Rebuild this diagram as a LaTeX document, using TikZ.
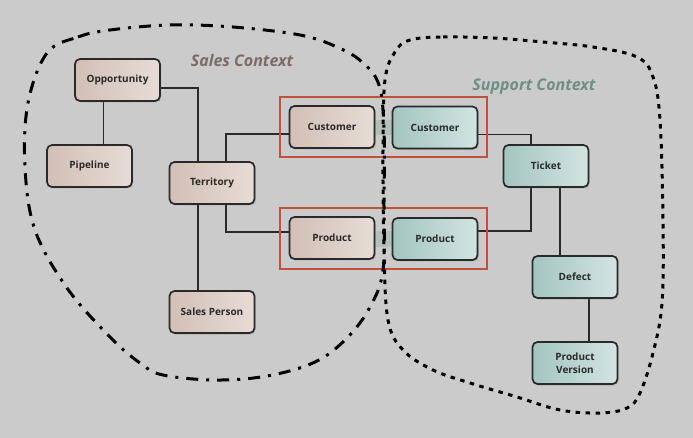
\documentclass[tikz,border=0pt]{standalone}
\usepackage{fontspec}
\setmainfont{Open Sans}
\usetikzlibrary{shadows,fit,calc}
\definecolor{bgc}{HTML}{CBCBCB}
\definecolor{salesL}{HTML}{D2BFB5}
\definecolor{salesR}{HTML}{E6DCD6}
\definecolor{supL}{HTML}{A3C5C0}
\definecolor{supR}{HTML}{D2E4E1}
\definecolor{edgec}{HTML}{2A2A2A}
\definecolor{redc}{HTML}{C0523B}
\definecolor{bandc}{HTML}{B4C0BA}
\definecolor{salestxt}{HTML}{7B6B67}
\definecolor{suptxt}{HTML}{6F8E89}
\pgfdeclarelayer{bglayer}
\pgfdeclarelayer{midlayer}
\pgfsetlayers{bglayer,midlayer,main}
\tikzset{
  entity/.style={draw=edgec, line width=1.7pt, rounded corners=5pt,
    minimum width=85pt, minimum height=42pt, align=center,
    font=\fontsize{10}{12.5}\selectfont\bfseries, text=edgec,
    drop shadow={shadow xshift=1.2pt, shadow yshift=-1.5pt, opacity=0.35}},
  salesent/.style={entity, left color=salesL, right color=salesR},
  supent/.style={entity, left color=supL, right color=supR},
  link/.style={draw=edgec, line width=1.4pt},
  redbox/.style={draw=redc, line width=2.2pt, inner xsep=9pt, inner ysep=8pt},
  salesb/.style={line width=3pt, dash pattern=on 12pt off 8pt on 3pt off 8pt},
  supb/.style={line width=3pt, dash pattern=on 4.5pt off 5.5pt},
  ctxlabel/.style={font=\fontsize{16}{19}\selectfont\bfseries\itshape}
}
\begin{document}
\begin{tikzpicture}[x=1pt,y=-1pt]
\begin{pgfonlayer}{bglayer}
\fill[bgc] (0,0) rectangle (693,438);
\end{pgfonlayer}
\useasboundingbox (0,0) rectangle (693,438);

% sales nodes
\node[salesent] (opp) at (117.5,80) {Opportunity};
\node[salesent] (pipe) at (89.5,166) {Pipeline};
\node[salesent] (terr) at (212,183) {Territory};
\node[salesent] (sp) at (212,312) {Sales Person};
\node[salesent] (custS) at (332,127) {Customer};
\node[salesent] (prodS) at (332,238) {Product};
% support nodes
\node[supent] (custT) at (435,127.5) {Customer};
\node[supent] (prodT) at (435,239) {Product};
\node[supent] (ticket) at (546,166) {Ticket};
\node[supent] (defect) at (575,277) {Defect};
\node[supent] (pv) at (575,363) {Product\\Version};

% red boxes
\node[redbox, fit=(custS)(custT)] (rb1) {};
\node[redbox, fit=(prodS)(prodT)] (rb2) {};

\begin{pgfonlayer}{midlayer}
\fill[bandc] ([yshift=7pt]custS.east) rectangle ([yshift=-8pt]custT.west);
\fill[bandc] ([yshift=7pt]prodS.east) rectangle ([yshift=-8pt]prodT.west);
% connectors
\draw[link] ([yshift=-8pt]opp.east) -| ([xshift=-14pt]terr.north);
\draw[link] ([xshift=-14pt]opp.south) -- ([xshift=-14pt]opp.south |- pipe.north);
\draw[link] ([xshift=14pt]terr.north) |- ([yshift=-7pt]custS.west);
\draw[link] ([xshift=14pt]terr.south) |- ([yshift=6pt]prodS.west);
\draw[link] ([xshift=-14pt]terr.south) -- ([xshift=-14pt]sp.north);
\draw[link] ([yshift=-7pt]custT.east) -| ([xshift=-15pt]ticket.north);
\draw[link] ([xshift=-15pt]ticket.south) |- ([yshift=8pt]prodT.east);
\draw[link] ([xshift=14pt]ticket.south) -- ([xshift=14pt]ticket.south |- defect.north);
\draw[link] ([xshift=14pt]defect.south) -- ([xshift=14pt]defect.south |- pv.north);
\end{pgfonlayer}

% context boundaries
\draw[salesb] plot[smooth cycle, tension=0.6] coordinates {
 (47,53) (78,37) (110,30) (170,25) (233,27) (300,35) (337,47) (362,62)
 (379,85) (384,130) (384,200) (383,270) (370,307) (347,338) (315,362)
 (267,376) (215,380) (163,375) (140,363) (110,337) (67,288) (35,230)
 (25,167) (28,103)};
\draw[supb] plot[smooth cycle, tension=0.6] coordinates {
 (410,40) (443,37) (493,38) (543,42) (593,47) (637,57) (653,77) (660,120)
 (663,220) (662,303) (653,353) (640,393) (627,408) (600,413) (560,410)
 (517,397) (470,383) (433,370) (403,350) (388,320) (384,250) (383,150)
 (385,80) (395,52)};

\node[ctxlabel, text=salestxt] (salesl) at (242,61) {Sales Context};
\node[ctxlabel, text=suptxt] (supl) at (534,87) {Support Context};
\end{tikzpicture}
\end{document}
